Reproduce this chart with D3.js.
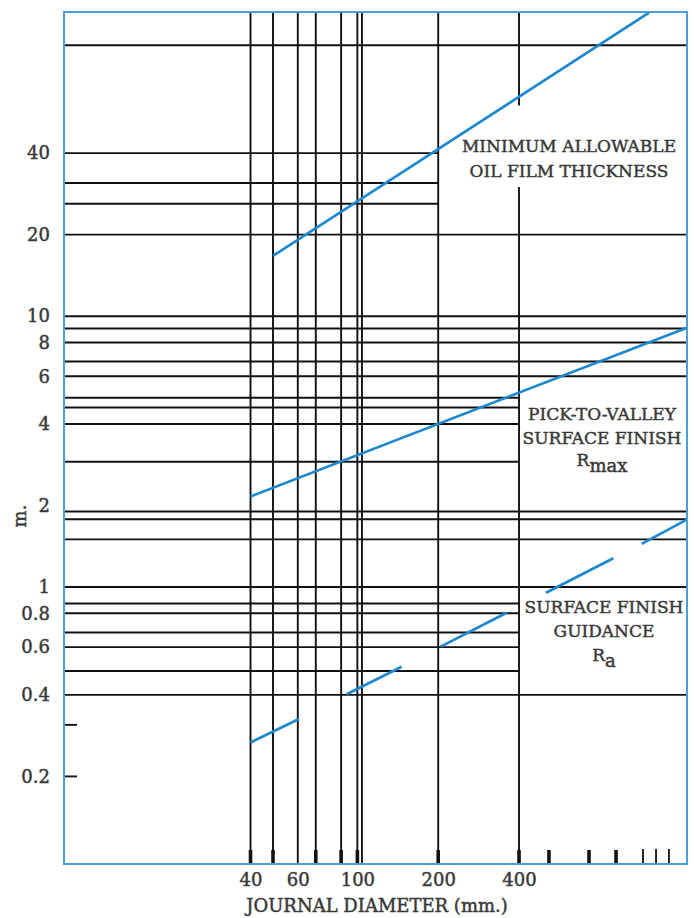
<!DOCTYPE html>
<html>
<head>
<meta charset="utf-8">
<script src="https://cdn.jsdelivr.net/npm/d3@7"></script>
<style>
  html, body { margin: 0; padding: 0; background: #fff; }
  svg { display: block; font-family: "DejaVu Serif", serif; }
  svg text { stroke: #383838; stroke-width: 0.45px; }
</style>
</head>
<body>
<svg id="chart" width="694" height="918"></svg>
<script>
// Journal diameter (mm), logarithmic
const xDomain = [8.08, 1689];
// Film thickness / roughness, logarithmic
const yDomain = [0.095, 132.7];

// Axis labels
const xTickLabels = [40, 60, 100, 200, 400];
const yTickLabels = [40, 20, 10, 8, 6, 4, 2, 1, 0.8, 0.6, 0.4, 0.2];
const yShortTicks = [0.31, 0.2];

// Vertical grid lines (full height)
const verticalGrid = [40, 48.5, 60, 70, 87, 100, 104, 200];
// The 400 mm line is broken between these two heights for the oil-film caption
const line400 = 400;
const line400Gap = [30, 60];

// Horizontal grid lines, grouped by how far right they run
const gridFullWidth = [100, 20, 10, 9, 8, 6.8, 6, 1.9, 1.78, 1.5, 1, 0.4];
const gridTo200 = [40, 31, 26];
const gridTo400 = [5, 4.6, 4, 2.9, 0.87, 0.8, 0.68, 0.6, 0.49];

// Foot marks along the diameter axis
const footTicksHeavy = [40, 48.5, 70, 87, 100, 200, 400, 517, 729, 919];
const footTicksLight = [1158, 1295, 1447];

// Curves: [diameter, value]
const oilFilm = [[48.5, 16.7], [1220, 132]];
const rmax = [[40, 2.16], [1680, 9.05]];
const raSegments = [
  [[40, 0.267], [60.6, 0.326]],
  [[91.2, 0.402], [146.2, 0.508]],
  [[204.3, 0.603], [359.8, 0.804]],
  [[504, 0.953], [898, 1.277]],
  [[1145, 1.443], [1680, 1.77]]
];

const margin = { top: 12, left: 64, right: 7, bottom: 54 };
const W = 694 - margin.left - margin.right;
const H = 918 - margin.top - margin.bottom;

const svg = d3.select("#chart");
const g = svg.append("g").attr("transform", `translate(${margin.left},${margin.top})`);

const x = d3.scaleLog().domain(xDomain).range([0, W]);
const y = d3.scaleLog().domain(yDomain).range([H, 0]);

const gridColor = "#111";
const gridWidth = 1.9;
const blue = "#1d87cf";
const textColor = "#383838";

svg.append("defs").append("clipPath").attr("id", "plotClip")
  .append("rect").attr("width", W).attr("height", H);

// Vertical grid
const grid = g.append("g").attr("stroke", gridColor).attr("stroke-width", gridWidth);
grid.selectAll("line.v").data(verticalGrid).join("line")
  .attr("class", "v")
  .attr("x1", d => x(d)).attr("x2", d => x(d))
  .attr("y1", y(yDomain[0])).attr("y2", y(yDomain[1]));

grid.selectAll("line.v400").data([[yDomain[0], line400Gap[0]], [line400Gap[1], yDomain[1]]]).join("line")
  .attr("class", "v400")
  .attr("x1", x(line400)).attr("x2", x(line400))
  .attr("y1", d => y(d[0])).attr("y2", d => y(d[1]));

// Horizontal grid
function hLines(cls, values, xEnd) {
  grid.selectAll("line." + cls).data(values).join("line")
    .attr("class", cls)
    .attr("x1", x(xDomain[0])).attr("x2", x(xEnd))
    .attr("y1", d => y(d)).attr("y2", d => y(d));
}
hLines("hf", gridFullWidth, xDomain[1]);
hLines("h200", gridTo200, 200);
hLines("h400", gridTo400, line400);

// Short ticks on the left edge
g.append("g").selectAll("line").data(yShortTicks).join("line")
  .attr("x1", 0).attr("x2", 13)
  .attr("y1", d => y(d)).attr("y2", d => y(d))
  .attr("stroke", gridColor).attr("stroke-width", gridWidth);

// Foot marks
g.append("g").selectAll("line").data(footTicksHeavy).join("line")
  .attr("x1", d => x(d)).attr("x2", d => x(d))
  .attr("y1", H - 14).attr("y2", H)
  .attr("stroke", "#111").attr("stroke-width", 3.6);
g.append("g").selectAll("line").data(footTicksLight).join("line")
  .attr("x1", d => x(d)).attr("x2", d => x(d))
  .attr("y1", H - 15).attr("y2", H)
  .attr("stroke", "#111").attr("stroke-width", 1.8);

// Curves
const line = d3.line().x(d => x(d[0])).y(d => y(d[1]));
const curves = g.append("g").attr("clip-path", "url(#plotClip)")
  .attr("fill", "none").attr("stroke", blue).attr("stroke-width", 2.7);
curves.append("path").attr("d", line(oilFilm));
curves.append("path").attr("d", line(rmax));
curves.selectAll("path.ra").data(raSegments).join("path")
  .attr("class", "ra").attr("d", d => line(d));

// Frame
g.append("rect").attr("width", W).attr("height", H)
  .attr("fill", "none").attr("stroke", "#4a9fd8").attr("stroke-width", 2);

// Axes
const fmt = d => String(d);
const yAxis = g.append("g")
  .call(d3.axisLeft(y).tickValues(yTickLabels).tickFormat(fmt).tickSize(0).tickPadding(14));
const xAxis = g.append("g").attr("transform", `translate(0,${H})`)
  .call(d3.axisBottom(x).tickValues(xTickLabels).tickFormat(fmt).tickSize(0).tickPadding(9));
[yAxis, xAxis].forEach(a => {
  a.select(".domain").remove();
  a.selectAll("text")
    .attr("font-family", "DejaVu Serif, serif")
    .attr("font-size", 18)
    .attr("fill", textColor);
});

// Axis titles
svg.append("text")
  .attr("x", 377).attr("y", 912)
  .attr("text-anchor", "middle")
  .attr("font-size", 18).attr("fill", textColor)
  .text("JOURNAL DIAMETER (mm.)");

svg.append("text")
  .attr("transform", "translate(26,516) rotate(-90)")
  .attr("text-anchor", "middle")
  .attr("font-size", 18).attr("fill", textColor)
  .text("m.");

// Curve captions
function caption(cx, lines) {
  lines.forEach(l => {
    const t = svg.append("text")
      .attr("x", cx).attr("y", l.y)
      .attr("text-anchor", "middle")
      .attr("font-size", 17).attr("fill", textColor);
    t.append("tspan").text(l.text);
    if (l.sub) {
      t.append("tspan").attr("dy", 6).attr("font-size", 18).text(l.sub);
    }
  });
}
caption(569, [
  { y: 152, text: "MINIMUM ALLOWABLE" },
  { y: 177, text: "OIL FILM THICKNESS" }
]);
caption(602, [
  { y: 420, text: "PICK-TO-VALLEY" },
  { y: 444, text: "SURFACE FINISH" },
  { y: 466, text: "R", sub: "max" }
]);
caption(604, [
  { y: 613, text: "SURFACE FINISH" },
  { y: 637, text: "GUIDANCE" },
  { y: 661, text: "R", sub: "a" }
]);
</script>
</body>
</html>
